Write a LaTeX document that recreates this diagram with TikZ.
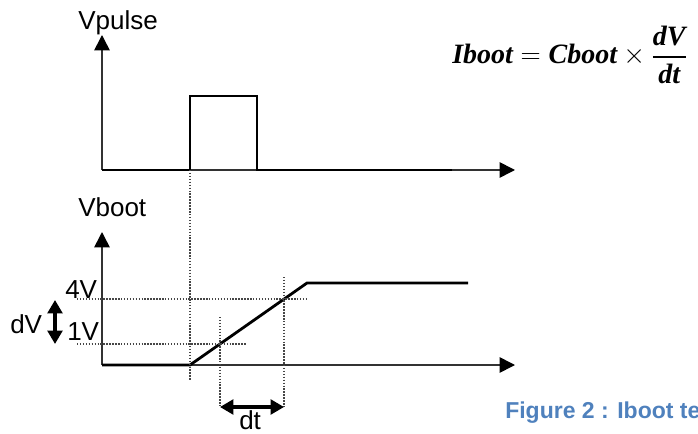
\RequirePackage{fix-cm}
\documentclass[tikz,border=0pt]{standalone}
\usepackage{amsmath}
\usepackage{fontspec}
\setmainfont{Liberation Sans}
\newfontfamily\eqfont{Liberation Serif}
\usepackage{tikz}
\usetikzlibrary{positioning,arrows.meta,calc}
\definecolor{capblue}{RGB}{79,129,189}
\definecolor{axisgray}{RGB}{50,50,50}
\definecolor{dotgray}{RGB}{70,70,70}

\begin{document}
\begin{tikzpicture}[
  x=0.75pt, y=-0.75pt,
  every node/.style={font=\fontsize{19.5}{23}\selectfont, inner sep=0pt},
  axis/.style={-{Triangle[length=11.5pt,width=11.5pt,color=black]}, line width=1.2pt, color=axisgray},
  signal/.style={line width=2.1pt, line join=miter},
  guide/.style={line width=1.3pt, color=dotgray, dash pattern=on 1.1pt off 1.1pt},
  span/.style={{Triangle[length=10pt,width=11pt]}-{Triangle[length=10pt,width=11pt]}, line width=2.4pt}
]
  \useasboundingbox (0,0) rectangle (698,434);
  \clip (0,0) rectangle (698,434);

  % top plot: Vpulse
  \coordinate (to) at (102,170);
  \coordinate (tyend) at (102,35);
  \coordinate (txend) at (515,170);
  \coordinate (rise) at (190,170);
  \coordinate (risetop) at (190,96);
  \coordinate (falltop) at (257,96);
  \coordinate (fall) at (257,170);
  \coordinate (tend) at (452,170);
  \node[anchor=base west] (vpulse) at (78,30) {Vpulse};
  \draw[axis] (to) -- (tyend);
  \draw[axis] (to) -- (txend);
  \draw[signal] (to) -- (rise) -- (risetop) -- (falltop) -- (fall) -- (tend);

  % bottom plot: Vboot
  \coordinate (bo) at (102,365);
  \coordinate (byend) at (102,232);
  \coordinate (bxend) at (515,365);
  \coordinate (rampst) at (190,365);
  \coordinate (rampend) at (307,283);
  \coordinate (bend) at (468,283);
  \node[anchor=base west] (vboot) at (78,217) {Vboot};
  \draw[axis] (bo) -- (byend);
  \draw[axis] (bo) -- (bxend);
  \draw[signal] (bo) -- (rampst) -- (rampend) -- (bend);

  % guide lines
  \coordinate (g4a) at (77,299);
  \coordinate (g4b) at (308,299);
  \coordinate (g1a) at (77,344);
  \coordinate (g1b) at (247,344);
  \coordinate (gpb) at (190,381);
  \coordinate (t1a) at (220,317);
  \coordinate (t1b) at (220,407);
  \coordinate (t2a) at (284,277);
  \coordinate (t2b) at (284,407);
  \draw[guide] (g4a) -- (g4b);
  \draw[guide] (g1a) -- (g1b);
  \draw[guide] (rise) -- (gpb);
  \draw[guide] (t1a) -- (t1b);
  \draw[guide] (t2a) -- (t2b);

  \node[anchor=base west] (lab4) at (65,298) {4V};
  \node[anchor=base west] (lab1) at (67,340) {1V};

  % dV and dt
  \coordinate (dvtop) at (55,300);
  \coordinate (dvbot) at (55,344);
  \draw[span] (dvtop) -- (dvbot);
  \node[anchor=base west] (dvlab) at (10,333) {dV};
  \draw[span] (t1b) -- (t2b);
  \node[anchor=base west] (dtlab) at (239,429) {dt};

  % formula
  \node[anchor=base west, font=\fontsize{21}{25}\selectfont\eqfont\bfseries\itshape] (eq) at (452,64)
    {$\hbox{Iboot}=\hbox{Cboot}\times\dfrac{\hbox{dV}\vphantom{p}}{\hbox{dt}\vphantom{I}}$};

  % caption
  \node[anchor=base west, font=\fontsize{17.25}{20}\selectfont\bfseries, text=capblue] (cap) at (505,418)
    {Figure 2 : Iboot te};
\end{tikzpicture}
\end{document}
